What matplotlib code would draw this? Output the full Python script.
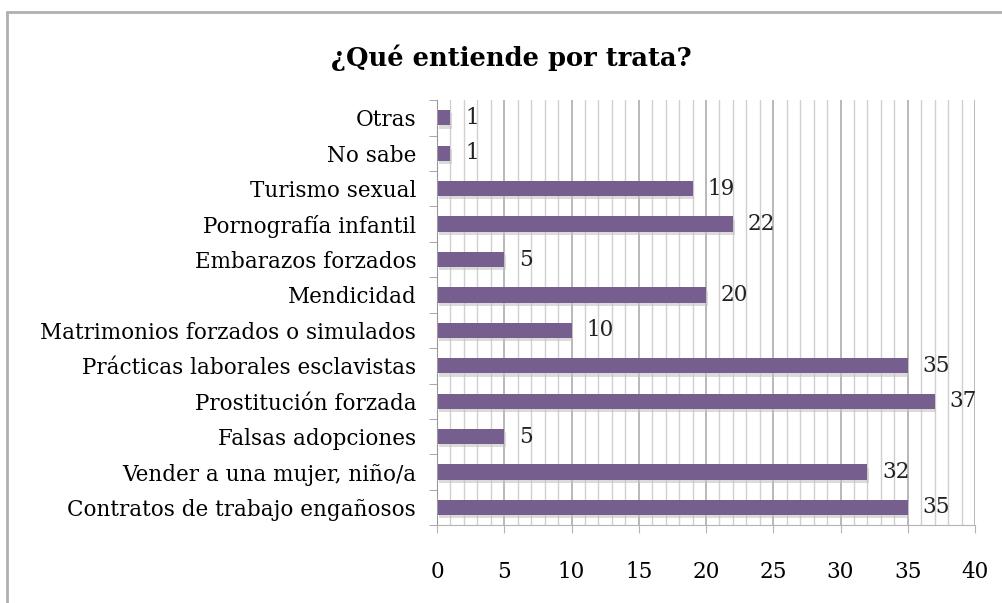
import matplotlib
matplotlib.use("Agg")
import matplotlib.pyplot as plt
from matplotlib.patches import Rectangle
import numpy as np

# respuestas, de abajo hacia arriba
categorias = [
    "Contratos de trabajo engañosos",
    "Vender a una mujer, niño/a",
    "Falsas adopciones",
    "Prostitución forzada",
    "Prácticas laborales esclavistas",
    "Matrimonios forzados o simulados",
    "Mendicidad",
    "Embarazos forzados",
    "Pornografía infantil",
    "Turismo sexual",
    "No sabe",
    "Otras",
]
valores = [35, 32, 5, 37, 35, 10, 20, 5, 22, 19, 1, 1]
xticks = [0, 5, 10, 15, 20, 25, 30, 35, 40]

plt.rcParams["font.family"] = ["DejaVu Serif", "Liberation Serif"]

fig = plt.figure(figsize=(10.03, 6.03), dpi=100)
ax = fig.add_axes([0.4357, 0.129, 0.5364, 0.705])

# marco exterior del gráfico
fig.patches.append(Rectangle((0.007, -0.1), 1.1, 1.08, transform=fig.transFigure,
                             fill=False, edgecolor="#b0b0b0", linewidth=2))

y = np.arange(len(categorias))

# líneas de cuadrícula: cada unidad, más marcadas cada 5
for v in range(0, 41):
    if v % 5 == 0:
        ax.axvline(v, color="#adadad", lw=1.2, zorder=0)
    else:
        ax.axvline(v, color="#d0d0d0", lw=1.0, zorder=0)

# sombra y barras
ax.barh(y - 0.09, valores, height=0.43, left=0.12, color="#c4c4c4", alpha=0.6, zorder=1)
ax.barh(y, valores, height=0.43, color="#765e8f", zorder=2)

for yi, v in zip(y, valores):
    ax.text(v + 1.1, yi, str(v), va="center", ha="left", fontsize=15.5, color="#222222")

ax.set_xlim(0, 40)
ax.set_ylim(-0.5, len(categorias) - 0.5)
ax.set_xticks(xticks)
ax.set_xticklabels([str(t) for t in xticks], fontsize=15.5)
ax.set_yticks(y)
ax.set_yticklabels(categorias, fontsize=15.5)
ax.set_yticks(np.arange(-0.5, len(categorias)), minor=True)

ax.tick_params(axis="y", which="major", length=0, pad=15)
ax.tick_params(axis="y", which="minor", length=6, color="#999999", direction="out")
ax.tick_params(axis="x", length=6, color="#b4b4b4", direction="out", pad=20)

for s in ["top", "right"]:
    ax.spines[s].set_visible(False)
ax.spines["left"].set_color("#999999")
ax.spines["bottom"].set_color("#b4b4b4")

fig.text(0.51, 0.905, "¿Qué entiende por trata?", ha="center", va="center",
         fontsize=18.5, fontweight="bold")

fig.savefig("out.png", dpi=100)
